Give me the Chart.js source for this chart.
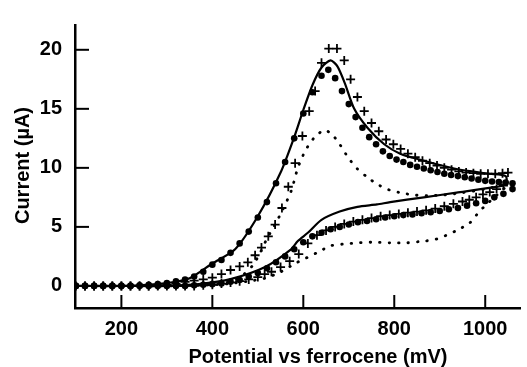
<!DOCTYPE html>
<html>
<head>
<meta charset="utf-8">
<script src="https://cdn.jsdelivr.net/npm/chart.js@4/dist/chart.umd.min.js"></script>
<style>
  html, body { margin: 0; padding: 0; background: #fff; }
</style>
</head>
<body>
<canvas id="cv" width="527" height="367"></canvas>
<script>
// tick labels
var xTicks = [200, 400, 600, 800, 1000];
var yTicks = [0, 5, 10, 15, 20];

// solid line: forward scan then return scan (mV, uA)
var solidX = [100, 200, 300, 350, 400, 450, 500, 550, 580, 600, 620, 640, 660, 675, 691, 712, 741, 778, 813, 865, 937, 1009, 1045,
              1045, 1009, 937, 865, 791, 762, 719, 680, 640, 610, 588, 573, 516, 442, 370, 300, 200, 100];
var solidY = [0, 0, 0.25, 0.65, 1.9, 3.1, 5.9, 9.6, 12.6, 14.9, 17.0, 18.5, 19.1, 18.6, 17.2, 15.0, 13.4, 12.0, 11.2, 10.6, 9.9, 9.5, 9.3,
              8.6, 8.3, 7.9, 7.5, 7.1, 6.9, 6.7, 6.3, 5.6, 4.5, 3.8, 3.1, 1.6, 0.6, 0.15, 0, 0, 0];

// dotted line
var dotX = [100, 200, 300, 350, 400, 430, 450, 470, 490, 505, 520, 535, 550, 573, 588, 605, 625, 647, 665, 680, 693, 704, 719, 741, 763, 791, 813, 843, 872, 909, 950, 1000, 1045,
            1045, 1020, 1000, 987, 965, 937, 915, 887, 865, 828, 791, 752, 719, 690, 660, 632, 603, 582, 551, 516, 479, 440, 400, 300, 200, 100];
var dotY = [0, 0, 0, 0.05, 0.15, 0.3, 0.5, 1.0, 1.8, 2.8, 4.0, 5.0, 6.1, 8.0, 10.0, 11.5, 12.6, 13.2, 12.75, 12.0, 11.2, 10.6, 9.9, 9.2, 8.6, 8.1, 7.9, 7.7, 7.65, 7.7, 7.9, 8.2, 8.6,
            8.4, 7.5, 6.8, 6.3, 5.3, 4.7, 4.3, 3.9, 3.8, 3.65, 3.65, 3.7, 3.65, 3.55, 3.4, 2.85, 2.3, 1.9, 1.2, 0.65, 0.4, 0.2, 0.1, 0, 0, 0];

// filled circles
var circX = [100, 120, 140, 160, 180, 200, 220, 240, 260, 280, 300, 320, 340, 360, 380, 400, 420, 440, 460, 480, 500, 520, 540, 560, 580, 600, 620, 640, 655, 670, 685, 700, 715, 730, 745, 760, 775, 790, 805, 820, 835, 850, 865, 880, 895, 910, 925, 940, 955, 970, 985, 1000, 1015, 1030, 1045, 1060,
             1060, 1040, 1020, 1000, 980, 960, 940, 920, 900, 880, 860, 840, 820, 800, 780, 760, 740, 720, 700, 680, 660, 640, 620, 600, 580, 560, 540, 520, 500, 480, 460, 440, 420, 400, 380, 360, 340, 320, 300, 280, 260, 240, 220, 200, 180, 160, 140, 120, 100];
var circY = [0, 0, 0, 0, 0, 0, 0, 0.05, 0.1, 0.15, 0.25, 0.4, 0.55, 0.8, 1.2, 1.8, 2.2, 2.8, 3.6, 4.6, 5.8, 7.1, 8.7, 10.5, 12.5, 14.6, 16.4, 17.8, 18.3, 17.6, 16.5, 15.4, 14.3, 13.4, 12.6, 12.0, 11.4, 11.0, 10.7, 10.5, 10.25, 10.1, 9.95, 9.8, 9.65, 9.5, 9.4, 9.3, 9.2, 9.1, 9.0, 8.9, 8.85, 8.8, 8.75, 8.7,
             8.2, 7.8, 7.5, 7.2, 7.0, 6.8, 6.6, 6.5, 6.35, 6.25, 6.15, 6.05, 6.0, 5.9, 5.8, 5.65, 5.5, 5.4, 5.2, 5.0, 4.8, 4.5, 4.2, 3.7, 3.1, 2.5, 2.0, 1.5, 1.1, 0.8, 0.5, 0.35, 0.2, 0.15, 0.1, 0.05, 0, 0, 0, 0, 0, 0, 0, 0, 0, 0, 0, 0, 0];

// crosses
var crossX = [100, 120, 140, 160, 180, 200, 220, 240, 260, 280, 300, 320, 340, 360, 380, 400, 420, 440, 460, 478, 494, 508, 523, 538, 553, 567, 582, 598, 613, 626, 640, 656, 674, 690, 704, 719, 734, 750, 766, 782, 798, 814, 830, 846, 862, 878, 894, 910, 926, 942, 958, 974, 990, 1006, 1022, 1038, 1050,
              1040, 1025, 1010, 995, 980, 965, 950, 930, 910, 890, 870, 850, 830, 810, 790, 770, 750, 730, 710, 690, 670, 650, 630, 610, 590, 570, 550, 530, 515, 500, 480, 460, 440, 420, 400, 380, 360, 340, 320, 300, 280, 260, 240, 220, 200, 180, 160, 140, 120, 100];
var crossY = [0, 0, 0, 0, 0, 0, 0, 0, 0, 0.05, 0.1, 0.2, 0.35, 0.45, 0.55, 0.7, 1.0, 1.35, 1.65, 2.0, 2.6, 3.25, 4.2, 5.2, 6.6, 8.4, 10.4, 12.7, 14.8, 16.5, 18.9, 20.1, 20.1, 19.1, 17.5, 16.0, 14.8, 13.8, 13.1, 12.4, 12.0, 11.6, 11.2, 10.9, 10.6, 10.4, 10.2, 10.0, 9.85, 9.7, 9.6, 9.55, 9.5, 9.5, 9.5, 9.55, 9.6,
              8.5, 8.2, 7.95, 7.75, 7.5, 7.3, 7.15, 6.95, 6.75, 6.55, 6.4, 6.3, 6.2, 6.1, 6.0, 5.9, 5.75, 5.6, 5.45, 5.25, 5.0, 4.7, 4.3, 3.6, 2.7, 2.1, 1.6, 1.2, 1.0, 0.75, 0.55, 0.4, 0.3, 0.2, 0.1, 0.05, 0, 0, 0, 0, 0, 0, 0, 0, 0, 0, 0, 0, 0];

function pts(xs, ys) {
    return xs.map(function (v, i) { return { x: v, y: ys[i] }; });
}

var font = { family: '"Liberation Sans", Arial, sans-serif', size: 20, weight: 'bold' };

// inward ticks and the axis titles
var decor = {
    id: 'decor',
    afterDraw: function (chart) {
        var ctx = chart.ctx, x = chart.scales.x, y = chart.scales.y;
        ctx.save();
        ctx.strokeStyle = '#000';
        ctx.lineWidth = 2;
        x.ticks.forEach(function (t) {
            var p = x.getPixelForValue(t.value);
            ctx.beginPath(); ctx.moveTo(p, x.top); ctx.lineTo(p, x.top - 13); ctx.stroke();
        });
        y.ticks.forEach(function (t) {
            var p = y.getPixelForValue(t.value);
            ctx.beginPath(); ctx.moveTo(y.right, p); ctx.lineTo(y.right + 14, p); ctx.stroke();
        });
        ctx.fillStyle = '#000';
        ctx.font = 'bold 20px "Liberation Sans", Arial, sans-serif';
        ctx.textAlign = 'center';
        ctx.textBaseline = 'alphabetic';
        ctx.fillText('Potential vs ferrocene (mV)', 318, 363);
        ctx.translate(23, 165.5);
        ctx.rotate(-Math.PI / 2);
        ctx.textBaseline = 'middle';
        ctx.fillText('Current (\u00b5A)', 0, 0);
        ctx.restore();
    }
};

var ctx = document.getElementById('cv').getContext('2d');
var chart = new Chart(ctx, {
    type: 'scatter',
    data: {
        datasets: [
            {
                label: 'solid',
                data: pts(solidX, solidY),
                showLine: true,
                borderColor: '#000',
                borderWidth: 2.2,
                pointRadius: 0,
                tension: 0.25
            },
            {
                label: 'dotted',
                data: pts(dotX, dotY),
                showLine: true,
                borderColor: '#000',
                borderWidth: 2.8,
                borderDash: [0.5, 9],
                borderCapStyle: 'round',
                pointRadius: 0,
                tension: 0.25
            },
            {
                label: 'circles',
                data: pts(circX, circY),
                pointStyle: 'circle',
                pointRadius: 3.3,
                backgroundColor: '#000',
                borderWidth: 0
            },
            {
                label: 'crosses',
                data: pts(crossX, crossY),
                pointStyle: 'cross',
                pointRadius: 4.5,
                borderColor: '#000',
                borderWidth: 1.8
            }
        ]
    },
    options: {
        responsive: false,
        animation: false,
        layout: { padding: { top: 13, right: 0, left: 0, bottom: 0 } },
        plugins: { legend: { display: false }, tooltip: { enabled: false } },
        scales: {
            x: {
                type: 'linear',
                min: 98,
                max: 1078,
                afterFit: function (s) { s.height = 59; },
                afterBuildTicks: function (s) { s.ticks = xTicks.map(function (v) { return { value: v }; }); },
                grid: { drawOnChartArea: false, drawTicks: false },
                border: { color: '#000', width: 2.5 },
                ticks: { color: '#000', font: font, padding: 9, maxRotation: 0, autoSkip: false,
                         callback: function (v) { return String(v); } }
            },
            y: {
                type: 'linear',
                min: -1.87,
                max: 22.1,
                afterFit: function (s) { s.width = 75; },
                afterBuildTicks: function (s) { s.ticks = yTicks.map(function (v) { return { value: v }; }); },
                grid: { drawOnChartArea: false, drawTicks: false },
                border: { color: '#000', width: 2.5 },
                ticks: { color: '#000', font: font, padding: 13, autoSkip: false,
                         callback: function (v) { return String(v); } }
            }
        }
    },
    plugins: [decor]
});
</script>
</body>
</html>
